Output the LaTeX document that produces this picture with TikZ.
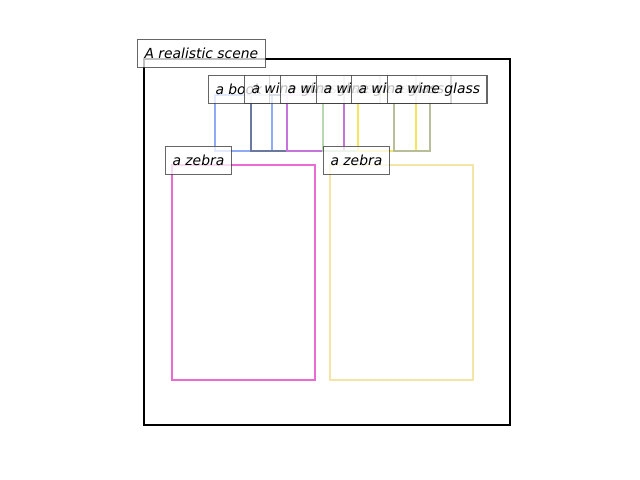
\documentclass[tikz,border=0pt]{standalone}
\usepackage{fontspec}
\setmainfont{DejaVu Sans}
\begin{document}
\begin{tikzpicture}[x=0.72pt,y=-0.72pt,
  bbox/.style={line width=2pt},
  lbl/.style={anchor=south west, draw=black!75, draw opacity=0.8, line width=0.8pt,
    fill=white, fill opacity=0.75, text opacity=1, inner xsep=5pt, inner ysep=0pt,
    minimum height=20.2pt, font=\fontsize{10}{12}\selectfont\itshape}]
\useasboundingbox (0,0) rectangle (640,480);
\definecolor{cbook}{HTML}{8FAAF7}
\definecolor{cslate}{HTML}{6B789F}
\definecolor{cpurple}{HTML}{C574DB}
\definecolor{cgreen}{HTML}{B6D9B2}
\definecolor{cyellow}{HTML}{F7E65C}
\definecolor{colive}{HTML}{B8BE98}
\definecolor{cpink}{HTML}{EA6CD3}
\definecolor{cbeige}{HTML}{F4E4A6}
% boxes
\draw[line width=1.6pt, black] (144,59) rectangle (510,425);
\draw[bbox, cbook] (215,95) rectangle (272,151);
\draw[bbox, cslate] (251,95) rectangle (287,151);
\draw[bbox, cpurple] (287,95) rectangle (344,151);
\draw[bbox, cgreen] (323,95) rectangle (358,151);
\draw[bbox, cyellow] (358,95) rectangle (416,151);
\draw[bbox, colive] (394,95) rectangle (430,151);
\draw[bbox, cpink] (172,165) rectangle (315,380);
\draw[bbox, cbeige] (330,165) rectangle (473,380);
% labels
\node[lbl] (lscene) at (137,68) {A realistic scene};
\node[lbl] (lbook) at (208,104) {a book};
\node[lbl] (lw1) at (244,104) {a wine glass};
\node[lbl] (lw2) at (280,104) {a wine glass};
\node[lbl] (lw3) at (316,104) {a wine glass};
\node[lbl] (lw4) at (351,104) {a wine glass};
\node[lbl] (lw5) at (387,104) {a wine glass};
\node[lbl] (lz1) at (165,175) {a zebra};
\node[lbl] (lz2) at (323,175) {a zebra};
\end{tikzpicture}
\end{document}
